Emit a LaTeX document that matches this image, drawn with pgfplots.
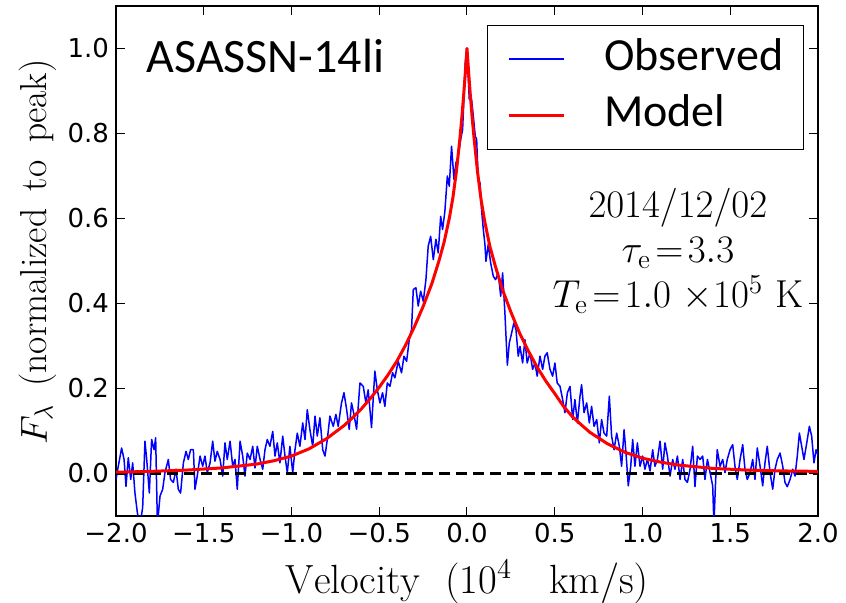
\RequirePackage{fix-cm}
\documentclass[border=0pt]{standalone}
\usepackage{fontspec}
\usepackage{pgfplots}
\pgfplotsset{compat=1.18}
\newfontfamily\tickfont{DejaVu Sans}
\newfontfamily\calfont{Carlito}

\pgfplotstableread{
x y
-2.000 -0.014
-1.987 0.017
-1.968 0.060
-1.954 0.033
-1.943 -0.030
-1.930 0.037
-1.916 -0.014
-1.905 0.025
-1.892 -0.046
-1.878 -0.093
-1.863 -0.120
-1.848 -0.080
-1.835 0.076
-1.825 0.033
-1.810 -0.046
-1.797 0.080
-1.783 0.056
-1.774 0.084
-1.764 -0.120
-1.749 -0.053
-1.734 -0.037
-1.721 0.002
-1.702 0.033
-1.689 -0.014
-1.673 -0.021
-1.658 0.010
-1.645 -0.037
-1.632 -0.046
-1.616 0.025
-1.601 0.052
-1.588 0.033
-1.575 0.056
-1.559 0.056
-1.550 -0.037
-1.537 -0.006
-1.521 0.041
-1.506 0.017
-1.493 0.041
-1.480 0.002
-1.464 0.025
-1.449 0.076
-1.436 0.029
-1.423 0.052
-1.407 0.033
-1.392 -0.006
-1.379 0.072
-1.366 0.033
-1.350 0.076
-1.335 0.017
-1.322 0.033
-1.309 -0.037
-1.293 0.076
-1.278 0.041
-1.265 -0.006
-1.252 0.048
-1.236 0.033
-1.221 0.064
-1.208 0.013
-1.195 0.064
-1.179 0.033
-1.164 0.010
-1.151 0.056
-1.138 0.080
-1.123 0.064
-1.107 0.099
-1.094 0.041
-1.081 0.072
-1.066 0.025
-1.050 0.088
-1.037 0.041
-1.024 0.002
-1.009 0.064
-0.993 0.002
-0.980 0.056
-0.967 0.095
-0.952 0.064
-0.936 0.119
-0.923 0.080
-0.910 0.150
-0.895 0.103
-0.879 0.064
-0.866 0.135
-0.853 0.088
-0.838 0.131
-0.822 0.056
-0.809 0.041
-0.796 0.080
-0.781 0.135
-0.762 0.111
-0.747 0.139
-0.734 0.111
-0.715 0.166
-0.701 0.190
-0.686 0.151
-0.671 0.104
-0.658 0.166
-0.644 0.139
-0.629 0.104
-0.610 0.213
-0.591 0.205
-0.576 0.166
-0.563 0.197
-0.544 0.108
-0.525 0.241
-0.511 0.197
-0.496 0.166
-0.481 0.190
-0.468 0.158
-0.454 0.213
-0.439 0.205
-0.424 0.237
-0.411 0.225
-0.392 0.264
-0.373 0.237
-0.359 0.276
-0.344 0.264
-0.329 0.315
-0.316 0.339
-0.306 0.433
-0.291 0.437
-0.278 0.394
-0.264 0.429
-0.249 0.405
-0.234 0.456
-0.221 0.535
-0.207 0.558
-0.192 0.503
-0.177 0.551
-0.164 0.519
-0.150 0.605
-0.139 0.574
-0.126 0.617
-0.112 0.700
-0.101 0.676
-0.088 0.770
-0.074 0.692
-0.063 0.731
-0.050 0.747
-0.036 0.786
-0.025 0.809
-0.017 0.888
-0.010 0.966
-0.002 0.998
0.005 0.951
0.013 0.880
0.026 0.880
0.036 0.841
0.047 0.794
0.055 0.786
0.064 0.692
0.074 0.684
0.083 0.620
0.093 0.574
0.102 0.540
0.108 0.499
0.121 0.539
0.135 0.495
0.150 0.464
0.163 0.456
0.178 0.472
0.192 0.417
0.203 0.472
0.216 0.378
0.230 0.255
0.241 0.307
0.254 0.330
0.267 0.354
0.279 0.339
0.292 0.276
0.302 0.299
0.317 0.260
0.330 0.315
0.343 0.260
0.359 0.284
0.374 0.245
0.387 0.260
0.400 0.229
0.416 0.276
0.431 0.245
0.444 0.276
0.457 0.284
0.473 0.245
0.488 0.229
0.501 0.260
0.514 0.213
0.530 0.205
0.545 0.174
0.558 0.143
0.572 0.190
0.587 0.205
0.602 0.127
0.615 0.174
0.629 0.119
0.644 0.182
0.653 0.209
0.667 0.143
0.682 0.166
0.697 0.119
0.710 0.158
0.724 0.111
0.739 0.127
0.754 0.072
0.767 0.127
0.781 0.095
0.796 0.088
0.811 0.182
0.824 0.088
0.838 0.056
0.853 0.095
0.868 0.064
0.881 0.017
0.895 0.103
0.906 0.048
0.919 -0.029
0.933 0.017
0.944 0.080
0.957 0.017
0.971 0.072
0.986 0.017
1.001 0.041
1.014 0.010
1.028 0.033
1.043 0.006
1.058 0.056
1.071 0.017
1.085 0.033
1.100 0.076
1.115 0.010
1.128 0.072
1.142 0.041
1.157 -0.006
1.172 0.033
1.185 0.010
1.199 0.041
1.214 -0.014
1.229 0.033
1.242 -0.014
1.256 -0.021
1.271 0.010
1.286 0.064
1.299 -0.031
1.313 0.041
1.328 0.033
1.343 0.041
1.356 -0.014
1.370 0.033
1.385 0.002
1.400 -0.029
1.407 -0.120
1.417 -0.014
1.426 0.056
1.442 0.017
1.457 0.033
1.470 0.002
1.483 0.033
1.499 0.056
1.514 0.068
1.527 0.017
1.540 -0.014
1.556 0.033
1.571 0.068
1.584 0.010
1.597 -0.014
1.613 0.002
1.628 0.033
1.641 -0.014
1.654 0.060
1.670 0.017
1.685 -0.029
1.698 0.025
1.711 0.064
1.727 0.002
1.742 -0.037
1.755 0.010
1.768 0.033
1.784 0.048
1.799 0.017
1.812 -0.021
1.825 -0.031
1.841 -0.014
1.856 0.010
1.869 -0.006
1.882 0.041
1.894 0.095
1.907 0.064
1.920 0.033
1.936 0.072
1.951 0.111
1.964 0.088
1.977 0.025
1.989 0.056
2.002 0.041
}\observed

% model profile
\pgfplotstableread{
x y
-2.00 0.003
-1.80 0.005
-1.60 0.008
-1.40 0.013
-1.20 0.022
-1.10 0.030
-1.00 0.041
-0.90 0.058
-0.80 0.082
-0.70 0.113
-0.65 0.132
-0.60 0.153
-0.55 0.177
-0.50 0.203
-0.45 0.232
-0.40 0.264
-0.35 0.302
-0.30 0.345
-0.25 0.393
-0.20 0.447
-0.16 0.500
-0.13 0.545
-0.10 0.602
-0.08 0.650
-0.06 0.712
-0.04 0.790
-0.03 0.835
-0.02 0.885
-0.01 0.940
0.00 1.000
0.01 0.940
0.02 0.885
0.03 0.835
0.04 0.790
0.06 0.710
0.08 0.645
0.10 0.595
0.13 0.535
0.16 0.490
0.20 0.435
0.25 0.380
0.30 0.330
0.35 0.288
0.40 0.250
0.45 0.217
0.50 0.188
0.55 0.158
0.60 0.134
0.65 0.115
0.70 0.097
0.80 0.070
0.90 0.050
1.00 0.036
1.10 0.027
1.20 0.020
1.40 0.012
1.60 0.008
1.80 0.006
2.00 0.005
}\model

\begin{document}
\begin{tikzpicture}
\useasboundingbox (-58pt,-43.5pt) rectangle (365pt,258pt);
\begin{axis}[
    scale only axis, width=351pt, height=255pt,
    xmin=-2, xmax=2, ymin=-0.1, ymax=1.1,
    xtick={-2,-1.5,-1,-0.5,0,0.5,1,1.5,2},
    xticklabels={−2.0,−1.5,−1.0,−0.5,0.0,0.5,1.0,1.5,2.0},
    ytick={0,0.2,0.4,0.6,0.8,1.0},
    yticklabels={0.0,0.2,0.4,0.6,0.8,1.0},
    tick label style={font=\tickfont\fontsize{13}{15}\selectfont},
    tick align=inside, xtick pos=both, ytick pos=both,
    major tick length=4.5pt,
    every tick/.style={black, line width=0.5pt},
    axis line style={line width=0.65pt},
    xlabel={$\mathrm{Velocity\ \ (10^4\ \ \ km/s)}$},
    xlabel style={font=\fontsize{20.4}{24}\selectfont,
        at={(axis description cs:0.5,-0.151)}, anchor=base},
    ylabel={$F_\lambda\ \,\mathrm{(normalized\ \,to\ \,peak)}$},
    ylabel style={font=\fontsize{18.8}{22}\selectfont,
        at={(axis description cs:-0.0983,0.518)}, anchor=base},
    legend style={at={(0.528,0.963)}, anchor=north west,
        font=\calfont\fontsize{23}{27}\selectfont,
        inner xsep=10pt, inner ysep=6.5pt, row sep=7pt, column sep=19.5pt,
        nodes={inner sep=0pt, text height=16pt, text depth=5pt}},
    every axis legend/.append style={draw=black, line width=0.6pt},
    legend cell align=left,
    legend image code/.code={\draw[#1] (0pt,0pt) -- (27.5pt,0pt);},
]
\addlegendimage{color=blue, line width=1pt}
\addlegendentry{Observed}
\addlegendimage{color=red, line width=1.5pt}
\addlegendentry{Model}
\addplot[color=blue, line width=0.75pt, line join=round, forget plot]
    table {\observed};
\addplot[black, line width=1.5pt, dash pattern=on 5.5pt off 3pt, forget plot]
    coordinates {(-2,0) (2,0)};
\addplot[color=red, line width=1.5pt, line join=round, forget plot]
    table {\model};
\node[anchor=base west, font=\calfont\fontsize{24}{28}\selectfont]
    at (axis cs:-1.866,0.944) {ASASSN-14li};
\node[anchor=base, font=\fontsize{19.5}{23}\selectfont]
    at (axis cs:1.202,0.602) {$2014/12/02$};
\node[anchor=base, font=\fontsize{19.5}{23}\selectfont]
    at (axis cs:1.202,0.496) {$\tau_{\mathrm{e}}\!=\!3.3$};
\node[anchor=base, font=\fontsize{19.5}{23}\selectfont]
    at (axis cs:1.202,0.391) {$T_{\mathrm{e}}\!=\!1.0\ {\times}10^5\ \mathrm{K}$};
\end{axis}
\end{tikzpicture}
\end{document}
